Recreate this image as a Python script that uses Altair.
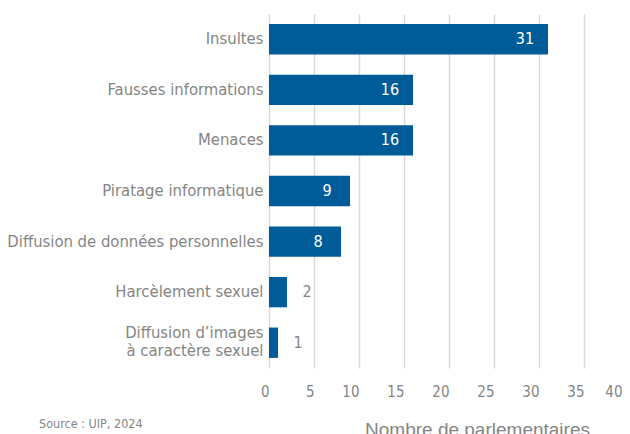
import altair as alt
import pandas as pd

categories = [
    "Insultes",
    "Fausses informations",
    "Menaces",
    "Piratage informatique",
    "Diffusion de données personnelles",
    "Harcèlement sexuel",
    "Diffusion d’images\u00a0\nà caractère sexuel",
]
values = [31, 16, 16, 9, 8, 2, 1]
x_ticks = [0, 5, 10, 15, 20, 25, 30, 35, 40]

df = pd.DataFrame({"cat": categories, "val": values})

FONT = "DejaVu Sans Condensed, Liberation Sans Narrow, sans-serif"
GREY = "#858585"
BLUE = "#005c99"

y = alt.Y(
    "cat:N",
    sort=categories,
    title=None,
    scale=alt.Scale(paddingInner=0.4, paddingOuter=0.2),
    axis=alt.Axis(
        ticks=False,
        domain=False,
        labelPadding=6,
        labelFont=FONT,
        labelFontSize=16.5,
        labelColor=GREY,
        labelLimit=400,
        labelLineHeight=18.5,
        labelOffset={"condition": {"test": "indexof(datum.value, '\\n') >= 0", "value": -10}, "value": 0},
        labelExpr="split(datum.label, '\\n')",
    ),
)

x = alt.X(
    "val:Q",
    scale=alt.Scale(domain=[0, 40], range=[0, 360], nice=False),
    axis=alt.Axis(
        values=x_ticks,
        ticks=False,
        domain=False,
        grid=True,
        gridColor="#d9d9d9",
        gridWidth=1.5,
        labelFont=FONT,
        labelFontSize=15,
        labelColor=GREY,
        labelPadding=16,
        labelAlign="right",
        labelOffset={"condition": {"test": "datum.value == 40", "value": -7}, "value": 0},
        title="Nombre de parlementaires",
        titleFont="Liberation Sans, sans-serif",
        titleFontSize=19,
        titleFontWeight="normal",
        titleColor=GREY,
        titleX=208,
        titleY=52,
        titleBaseline="top",
        titleAnchor="middle",
    ),
)

bars = alt.Chart(df).mark_bar(color=BLUE).encode(x=x, y=y)

inside = (
    alt.Chart(df)
    .transform_filter("datum.val >= 8")
    .mark_text(align="center", baseline="middle", dx=-23, font=FONT, fontSize=16, color="white")
    .encode(x="val:Q", y=alt.Y("cat:N", sort=categories), text="val:Q")
)

outside = (
    alt.Chart(df)
    .transform_filter("datum.val < 8")
    .mark_text(align="center", baseline="middle", dx=20, font=FONT, fontSize=16, color=GREY)
    .encode(x="val:Q", y=alt.Y("cat:N", sort=categories), text="val:Q")
)

chart = (
    alt.layer(bars, inside, outside)
    .properties(
        width=353,
        height=354,
        autosize=alt.AutoSizeParams(type="none"),
        padding={"left": 261, "top": 6, "right": 0, "bottom": 70},
        title=alt.TitleParams(
            text="Source : UIP, 2024",
            orient="bottom",
            anchor="start",
            frame="group",
            dx=-230,
            offset=-21,
            font=FONT,
            fontSize=12.5,
            fontWeight="normal",
            color=GREY,
        ),
    )
    .configure_view(stroke=None)
)

chart.save("out.html", embed_options={"renderer": "svg", "actions": False})
